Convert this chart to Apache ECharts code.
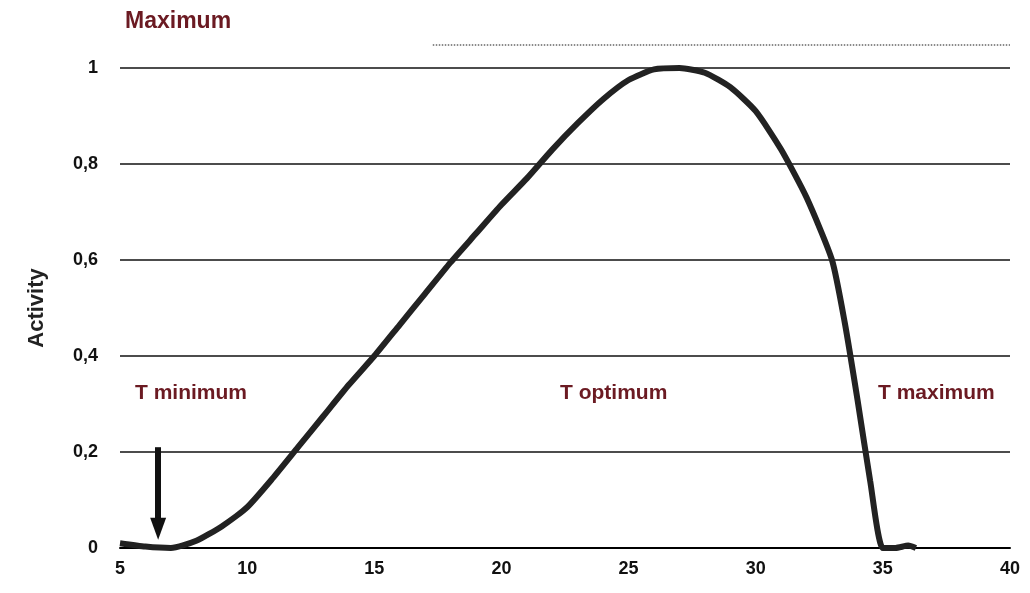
<!DOCTYPE html>
<html style="height: 100%">
<head>
    <meta charset="utf-8" />
    <title>Activity</title>
    <script type="text/javascript" src="https://cdn.jsdelivr.net/npm/echarts@6/dist/echarts.min.js"></script>
</head>
<body style="height: 100%; margin: 0; background: #fff">
    <div id="container" style="width: 1030px; height: 593px"></div>
</body>
</html>
<script type="text/javascript">
    var temps = [5, 6, 7, 8, 9, 10, 11, 12, 13, 14, 15, 16, 17, 18, 19, 20, 21, 22, 23, 24, 25, 26, 27, 28, 29, 30, 31, 32, 33, 33.5, 34, 34.5, 35, 35.5, 36, 36.3];
    var activity = [0.01, 0.003, 0, 0.015, 0.045, 0.085, 0.145, 0.21, 0.275, 0.34, 0.4, 0.465, 0.53, 0.595, 0.655, 0.715, 0.77, 0.83, 0.885, 0.935, 0.975, 0.997, 1.0, 0.99, 0.96, 0.91, 0.83, 0.73, 0.6, 0.47, 0.31, 0.14, 0, 0, 0.005, 0];
    var maxLineX = [17.3, 40];
    var maxLineY = 1.048;
    var darkRed = '#6b1a22';

    var myChart = echarts.init(document.getElementById('container'));
    var option = {
        animation: false,
        grid: { left: 120, right: 20, top: 68, bottom: 45 },
        xAxis: {
            type: 'value', min: 5, max: 40, interval: 5,
            axisLine: { lineStyle: { color: '#000', width: 2 } },
            axisTick: { show: false },
            splitLine: { show: false },
            axisLabel: { color: '#111', fontSize: 18, fontWeight: 'bold', fontFamily: 'Liberation Sans', margin: 12 }
        },
        yAxis: {
            type: 'value', min: 0, max: 1, interval: 0.2,
            name: 'Activity', nameLocation: 'middle', nameGap: 72, nameRotate: 90,
            nameTextStyle: { color: '#222', fontSize: 22, fontWeight: 'bold', fontFamily: 'Liberation Sans' },
            axisLine: { show: false },
            axisTick: { show: false },
            splitLine: { lineStyle: { color: '#111', width: 1.5 } },
            axisLabel: {
                color: '#111', fontSize: 18, fontWeight: 'bold', fontFamily: 'Liberation Sans', margin: 22,
                formatter: function (v) { return String(Math.round(v * 10) / 10).replace('.', ','); }
            }
        },
        series: [{
            type: 'line', smooth: 0.2, symbol: 'none',
            data: temps.map(function (t, i) { return [t, activity[i]]; }),
            lineStyle: { color: '#222', width: 6 },
            markLine: {
                silent: true, symbol: ['none', 'triangle'], symbolSize: [16, 22],
                label: { show: false },
                lineStyle: { color: '#111', width: 6, type: 'solid' },
                data: [[{ coord: [6.5, 0.21] }, { coord: [6.5, 0.04] }]]
            }
        }, {
            type: 'line', symbol: 'none', clip: false,
            data: maxLineX.map(function (x) { return [x, maxLineY]; }),
            lineStyle: { color: '#666', width: 1.5, type: 'dotted' }
        }],
        graphic: [
            { type: 'text', left: 125, top: 10, style: { text: 'Maximum', fill: darkRed, fontSize: 23, fontWeight: 'bold', fontFamily: 'Liberation Sans' } },
            { type: 'text', left: 135, top: 383, style: { text: 'T minimum', fill: darkRed, fontSize: 21, fontWeight: 'bold', fontFamily: 'Liberation Sans' } },
            { type: 'text', left: 560, top: 383, style: { text: 'T optimum', fill: darkRed, fontSize: 21, fontWeight: 'bold', fontFamily: 'Liberation Sans' } },
            { type: 'text', left: 878, top: 383, style: { text: 'T maximum', fill: darkRed, fontSize: 21, fontWeight: 'bold', fontFamily: 'Liberation Sans' } }
        ]
    };
    myChart.setOption(option);
</script>
